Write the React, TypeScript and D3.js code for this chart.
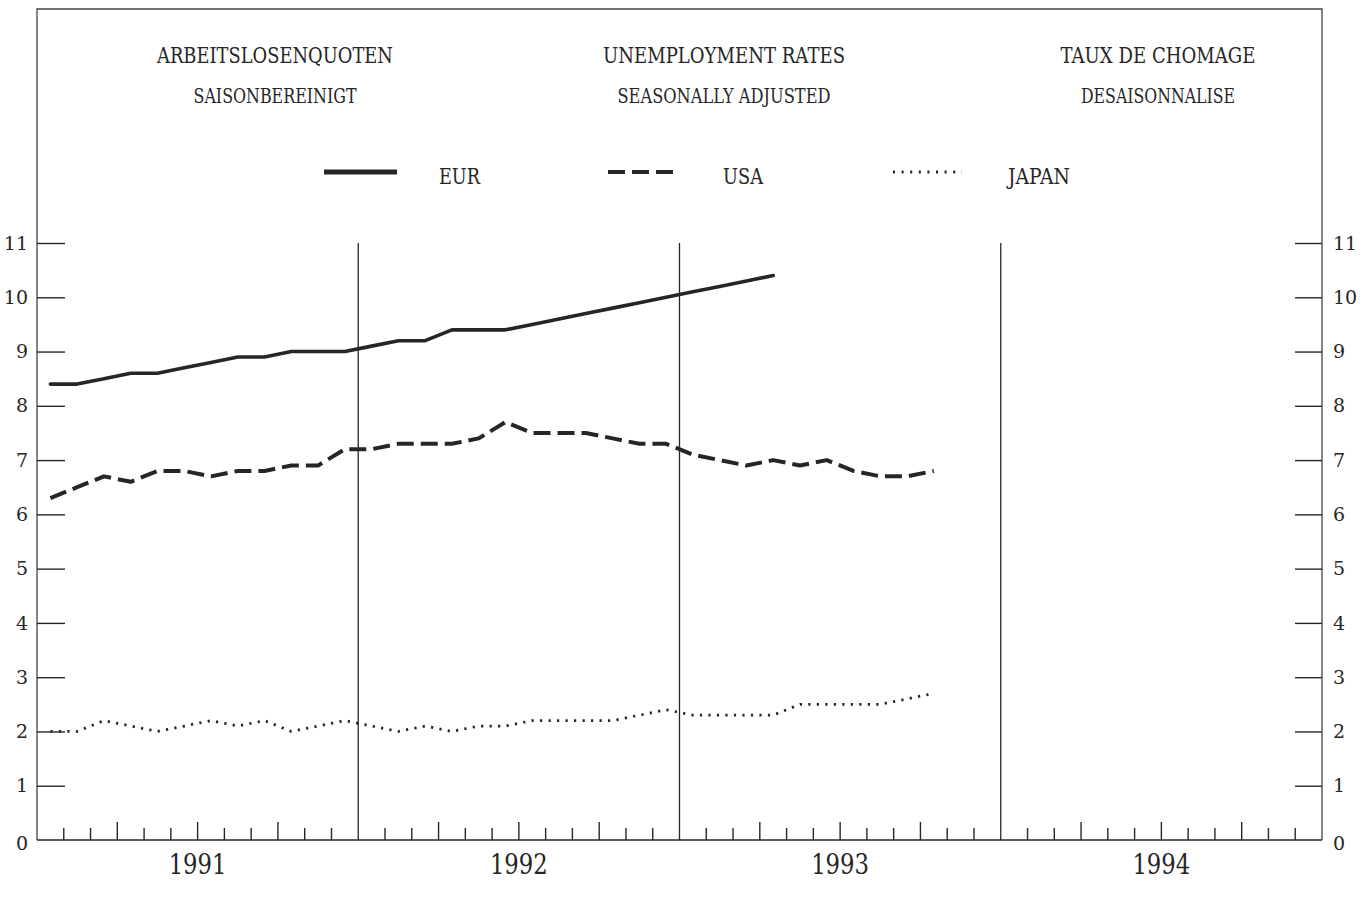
import { useEffect, useRef } from 'react'
import * as d3 from 'd3'

const W = 1367, H = 922
const X0 = 37, X1 = 1322, Y0 = 840, YTOP = 243, FRAME_TOP = 9

const INK = '#262626'
const FONT = '"DejaVu Serif", "Liberation Serif", serif'

// monthly values, Jan 1991 onward
const EUR = [8.4, 8.4, 8.5, 8.6, 8.6, 8.7, 8.8, 8.9, 8.9, 9.0, 9.0, 9.0,
  9.1, 9.2, 9.2, 9.4, 9.4, 9.4, 9.5, 9.6, 9.7, 9.8, 9.9, 10.0,
  10.1, 10.2, 10.3, 10.4]
const USA = [6.3, 6.5, 6.7, 6.6, 6.8, 6.8, 6.7, 6.8, 6.8, 6.9, 6.9, 7.2,
  7.2, 7.3, 7.3, 7.3, 7.4, 7.7, 7.5, 7.5, 7.5, 7.4, 7.3, 7.3,
  7.1, 7.0, 6.9, 7.0, 6.9, 7.0, 6.8, 6.7, 6.7, 6.8]
const JAPAN = [2.0, 2.0, 2.2, 2.1, 2.0, 2.1, 2.2, 2.1, 2.2, 2.0, 2.1, 2.2,
  2.1, 2.0, 2.1, 2.0, 2.1, 2.1, 2.2, 2.2, 2.2, 2.2, 2.3, 2.4,
  2.3, 2.3, 2.3, 2.3, 2.5, 2.5, 2.5, 2.5, 2.6, 2.7]

const YEARS = ['1991', '1992', '1993', '1994']
const Y_TICKS = [0, 1, 2, 3, 4, 5, 6, 7, 8, 9, 10, 11]

const TITLES = ['ARBEITSLOSENQUOTEN', 'UNEMPLOYMENT RATES', 'TAUX DE CHOMAGE']
const SUBTITLES = ['SAISONBEREINIGT', 'SEASONALLY ADJUSTED', 'DESAISONNALISE']
const SERIES_NAMES = ['EUR', 'USA', 'JAPAN']

// layout for header blocks: [centre x, title width, subtitle width]
const HEAD_LAYOUT = [[275, 236, 163], [724, 242, 213], [1158, 195, 154]]
// legend layout: [sample x0, sample x1, text x, text width]
const LEG_LAYOUT = [[324, 397, 439, 41], [608, 674, 723, 40], [893, 962, 1008, 62]]

const STYLES = [
  { width: 3.6, dash: '' },
  { width: 4, dash: '17 7' },
  { width: 2.8, dash: '2.2 6.3' },
]

export default function App() {
  const svgRef = useRef<SVGSVGElement>(null)

  useEffect(() => {
    const svg = d3.select(svgRef.current!)
    svg.selectAll('*').remove()

    svg.append('rect').attr('width', W).attr('height', H).attr('fill', '#fff')

    const x = d3.scaleLinear().domain([0, 48]).range([X0, X1])
    const y = d3.scaleLinear().domain([0, 11]).range([Y0, YTOP])

    // ── frame ──────────────────────────────────────────────────────────────
    svg.append('path')
      .attr('d', `M${X0},${Y0}V${FRAME_TOP}H${X1}V${Y0}`)
      .attr('fill', 'none').attr('stroke', '#444').attr('stroke-width', 1.3)

    // ── headers ────────────────────────────────────────────────────────────
    HEAD_LAYOUT.forEach(([cx, tw, sw], i) => {
      svg.append('text').attr('x', cx).attr('y', 63)
        .attr('text-anchor', 'middle').attr('font-family', FONT).attr('font-size', 22)
        .attr('fill', INK).attr('textLength', tw).attr('lengthAdjust', 'spacingAndGlyphs')
        .text(TITLES[i])
      svg.append('text').attr('x', cx).attr('y', 102.5)
        .attr('text-anchor', 'middle').attr('font-family', FONT).attr('font-size', 21)
        .attr('fill', INK).attr('textLength', sw).attr('lengthAdjust', 'spacingAndGlyphs')
        .text(SUBTITLES[i])
    })

    // ── legend ─────────────────────────────────────────────────────────────
    LEG_LAYOUT.forEach(([a, b, tx, tw], i) => {
      const s = STYLES[i]
      svg.append('line').attr('x1', a).attr('x2', b).attr('y1', 172).attr('y2', 172)
        .attr('stroke', INK).attr('stroke-width', i === 0 ? 5 : s.width)
        .attr('stroke-dasharray', i === 2 ? '2 6.6' : (s.dash || null))
        .attr('stroke-linecap', 'butt')
      svg.append('text').attr('x', tx).attr('y', 184)
        .attr('font-family', FONT).attr('font-size', 23).attr('fill', INK)
        .attr('textLength', tw).attr('lengthAdjust', 'spacingAndGlyphs')
        .text(SERIES_NAMES[i])
    })

    // ── y axes ─────────────────────────────────────────────────────────────
    const styleAxis = (ax: d3.Selection<SVGGElement, unknown, null, undefined>) => {
      ax.select('.domain').remove()
      ax.selectAll('.tick line').attr('stroke', INK).attr('stroke-width', 1.4)
      ax.selectAll('.tick text')
        .attr('font-family', FONT).attr('font-size', 19).attr('fill', INK)
    }
    svg.append('g').attr('transform', `translate(${X0},0)`)
      .call(d3.axisLeft(y).tickValues(Y_TICKS).tickSize(-28).tickPadding(9).tickFormat(d3.format('d')))
      .call(styleAxis)
    svg.append('g').attr('transform', `translate(${X1},0)`)
      .call(d3.axisRight(y).tickValues(Y_TICKS).tickSize(-27).tickPadding(11).tickFormat(d3.format('d')))
      .call(styleAxis)
    svg.selectAll('.tick').filter((d) => d === 0).selectAll('line').remove()
    svg.selectAll('.tick').filter((d) => d === 0).selectAll('text').attr('dy', '0.5em')

    // ── x axis ─────────────────────────────────────────────────────────────
    svg.append('line').attr('x1', X0).attr('x2', X1).attr('y1', Y0).attr('y2', Y0)
      .attr('stroke', INK).attr('stroke-width', 1.5)

    const monthTicks = d3.range(1, 48).filter(m => m % 12 !== 0)
    svg.append('g').selectAll('line').data(monthTicks).join('line')
      .attr('x1', d => x(d)).attr('x2', d => x(d))
      .attr('y1', Y0).attr('y2', d => Y0 - (d % 3 === 0 ? 18 : 12))
      .attr('stroke', INK).attr('stroke-width', 1.4)

    svg.append('g').selectAll('line').data([12, 24, 36]).join('line')
      .attr('x1', d => x(d)).attr('x2', d => x(d))
      .attr('y1', Y0).attr('y2', YTOP)
      .attr('stroke', INK).attr('stroke-width', 1.3)

    svg.append('g').selectAll('text').data(YEARS).join('text')
      .attr('x', (_, i) => x(i * 12 + 6)).attr('y', 874)
      .attr('text-anchor', 'middle').attr('font-family', FONT).attr('font-size', 27)
      .attr('fill', INK).attr('textLength', 58).attr('lengthAdjust', 'spacingAndGlyphs')
      .text(d => d)

    // ── series ─────────────────────────────────────────────────────────────
    const line = d3.line<number>().x((_, i) => x(i + 0.5)).y(d => y(d))
    ;[EUR, USA, JAPAN].forEach((vals, i) => {
      const s = STYLES[i]
      svg.append('path').attr('d', line(vals))
        .attr('fill', 'none').attr('stroke', INK).attr('stroke-width', s.width)
        .attr('stroke-dasharray', s.dash || null)
        .attr('stroke-linejoin', 'round').attr('stroke-linecap', i === 0 ? 'round' : 'butt')
    })
  }, [])

  return (
    <svg
      ref={svgRef}
      width={W}
      height={H}
      viewBox={`0 0 ${W} ${H}`}
      style={{ position: 'absolute', left: 0, top: 0, display: 'block' }}
    />
  )
}
